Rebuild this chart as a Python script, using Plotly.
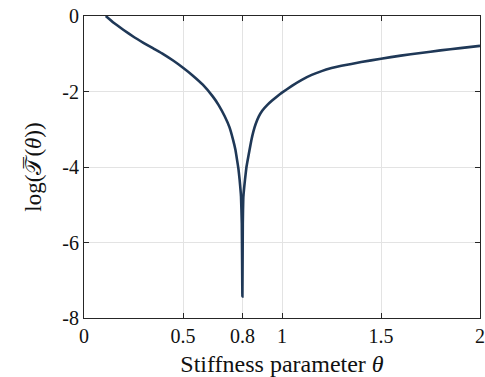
import plotly.graph_objects as go

theta = [0.11, 0.15, 0.2, 0.25, 0.3, 0.35, 0.4, 0.45, 0.5, 0.55, 0.6, 0.65,
         0.68, 0.71, 0.735, 0.753, 0.765, 0.773, 0.78, 0.786, 0.793, 0.797,
         0.8, 0.802, 0.805, 0.813, 0.82, 0.828, 0.836, 0.845, 0.855, 0.867,
         0.883, 0.9, 0.925, 0.95, 0.975, 1.0, 1.05, 1.1, 1.15, 1.2, 1.25, 1.3,
         1.4, 1.5, 1.6, 1.7, 1.8, 1.9, 2.0]
log_T = [0.0, -0.18, -0.37, -0.55, -0.71, -0.86, -1.01, -1.18, -1.37, -1.58,
         -1.82, -2.13, -2.36, -2.65, -2.95, -3.28, -3.55, -3.81, -4.05, -4.34,
         -4.78, -5.5, -7.43, -5.5, -4.78, -4.34, -4.02, -3.78, -3.55, -3.3,
         -3.07, -2.86, -2.66, -2.51, -2.36, -2.24, -2.13, -2.03, -1.85, -1.69,
         -1.56, -1.46, -1.38, -1.32, -1.22, -1.13, -1.05, -0.98, -0.91, -0.85,
         -0.79]

x_ticks = [0, 0.5, 0.8, 1, 1.5, 2]
x_tick_text = ["0", "0.5", "0.8", "1", "1.5", "2"]
y_ticks = [0, -2, -4, -6, -8]
y_tick_text = ["0", "-2", "-4", "-6", "-8"]

serif = "Liberation Serif, Times New Roman, serif"

fig = go.Figure()
fig.add_trace(go.Scatter(x=theta, y=log_T, mode="lines",
                         line=dict(color="#1f3857", width=2.6, shape="spline", smoothing=0.3),
                         showlegend=False))

axis_common = dict(
    showline=True, linecolor="#262626", linewidth=1, mirror="ticks",
    ticks="inside", ticklen=5, tickcolor="#262626", tickwidth=1,
    showgrid=True, gridcolor="#e3e3e3", gridwidth=1, zeroline=False,
    tickfont=dict(family=serif, size=20, color="#111111"),
)

fig.update_layout(
    width=485, height=377,
    margin=dict(l=84, r=0, t=16, b=59),
    plot_bgcolor="white", paper_bgcolor="white",
    xaxis=dict(range=[0, 2], tickvals=x_ticks, ticktext=x_tick_text,
               ticklabeloverflow="allow",
               title=dict(text="Stiffness parameter <i>θ</i>",
                          font=dict(family=serif, size=24, color="#111111"),
                          standoff=9),
               **axis_common),
    yaxis=dict(range=[-8, 0], tickvals=y_ticks, ticktext=y_tick_text,
               title=dict(text="log(𝒯\u0305(<i>θ</i>))",
                          font=dict(family=serif, size=23, color="#111111"),
                          standoff=14),
               **axis_common),
)

fig.write_html("out.html")
